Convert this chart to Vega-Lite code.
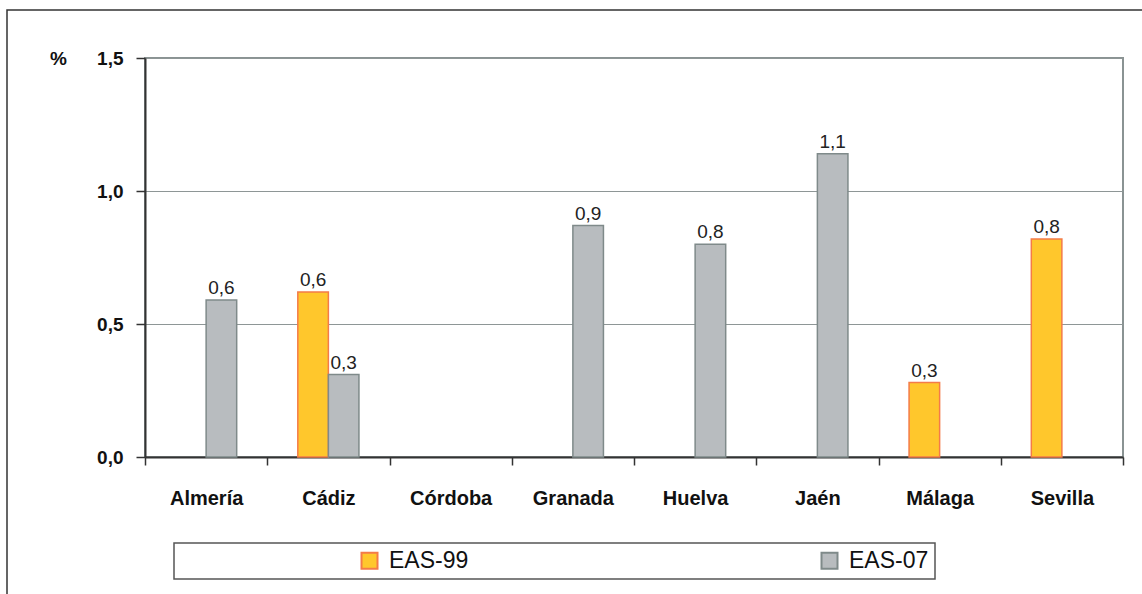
{
  "$schema": "https://vega.github.io/schema/vega-lite/v6.json",
  "width": 978,
  "height": 399,
  "autosize": {"type": "none"},
  "padding": {"left": 145, "top": 58, "right": 19, "bottom": 137},
  "background": "white",
  "config": {
    "locale": {"number": {"decimal": ",", "thousands": ".", "grouping": [3], "currency": ["", " €"]}},
    "font": "Liberation Sans",
    "view": {"stroke": "#8A9393", "strokeWidth": 2},
    "legend": {
      "orient": "none",
      "direction": "horizontal",
      "labelFont": "Liberation Sans",
      "labelLimit": 0,
      "strokeWidth": 1.5
    }
  },
  "data": {
    "values": [
      {"region": "Almería", "series": "EAS-07", "value": 0.59},
      {"region": "Cádiz", "series": "EAS-99", "value": 0.62},
      {"region": "Cádiz", "series": "EAS-07", "value": 0.31},
      {"region": "Granada", "series": "EAS-07", "value": 0.87},
      {"region": "Huelva", "series": "EAS-07", "value": 0.8},
      {"region": "Jaén", "series": "EAS-07", "value": 1.14},
      {"region": "Málaga", "series": "EAS-99", "value": 0.28},
      {"region": "Sevilla", "series": "EAS-99", "value": 0.82}
    ]
  },
  "encoding": {
    "x": {
      "field": "region",
      "type": "nominal",
      "sort": ["Almería", "Cádiz", "Córdoba", "Granada", "Huelva", "Jaén", "Málaga", "Sevilla"],
      "scale": {"domain": ["Almería", "Cádiz", "Córdoba", "Granada", "Huelva", "Jaén", "Málaga", "Sevilla"], "paddingInner": 0, "paddingOuter": 0},
      "axis": {
        "title": null,
        "tickBand": "extent",
        "labelAngle": 0,
        "labelFont": "Liberation Sans",
        "labelFontSize": 20,
        "labelFontWeight": "bold",
        "labelColor": "#111111",
        "labelPadding": 23,
        "tickSize": 8,
        "tickColor": "#333333",
        "tickWidth": 1.5,
        "domainColor": "#333333",
        "domainWidth": 2,
        "grid": false
      }
    },
    "xOffset": {
      "field": "series",
      "type": "nominal",
      "sort": ["EAS-99", "EAS-07"],
      "scale": {"domain": ["EAS-99", "EAS-07"], "paddingInner": 0, "paddingOuter": 1.843}
    },
    "y": {
      "field": "value",
      "type": "quantitative",
      "scale": {"domain": [0, 1.5], "nice": false},
      "axis": {
        "values": [0, 0.5, 1, 1.5],
        "format": ".1f",
        "title": "%",
        "titleAngle": 0,
        "titleX": -87,
        "titleY": 0,
        "titleAlign": "center",
        "titleBaseline": "middle",
        "titleFont": "Liberation Sans",
        "titleFontSize": 19,
        "titleFontWeight": "bold",
        "titleColor": "#111111",
        "labelFont": "Liberation Sans",
        "labelFontSize": 19,
        "labelFontWeight": "bold",
        "labelColor": "#111111",
        "labelPadding": 13,
        "tickSize": 9,
        "tickColor": "#333333",
        "tickWidth": 1.5,
        "domainColor": "#333333",
        "domainWidth": 2,
        "gridColor": "#8E9696",
        "gridWidth": 1
      }
    }
  },
  "layer": [
    {
      "mark": {"type": "bar", "strokeWidth": 1.5},
      "encoding": {
        "fill": {
          "field": "series",
          "type": "nominal",
          "scale": {"domain": ["EAS-99", "EAS-07"], "range": ["#FFC72C", "#B8BCBF"]},
          "legend": {
            "title": null,
            "legendX": 29, "legendY": 485,
            "fillColor": "white", "strokeColor": "#555555", "padding": 6,
            "symbolType": "square", "symbolSize": 256, "symbolStrokeWidth": 2,
            "labelFontSize": 23, "labelColor": "#111111",
            "symbolOffset": 178, "labelOffset": 8, "columnPadding": 171
          }
        },
        "stroke": {
          "field": "series",
          "type": "nominal",
          "scale": {"domain": ["EAS-99", "EAS-07"], "range": ["#F47B48", "#7F8A8A"]},
          "legend": {
            "title": null,
            "legendX": 29, "legendY": 485,
            "fillColor": "white", "strokeColor": "#555555", "padding": 6,
            "symbolType": "square", "symbolSize": 256, "symbolStrokeWidth": 2,
            "labelFontSize": 23, "labelColor": "#111111",
            "symbolOffset": 178, "labelOffset": 8, "columnPadding": 171
          }
        },
        "opacity": {
          "field": "region",
          "type": "ordinal",
          "scale": {"range": [1, 1]},
          "legend": {
            "title": null,
            "legendX": -138, "legendY": -48,
            "fillColor": "rgba(0,0,0,0)", "strokeColor": "#333333", "padding": 640,
            "symbolOpacity": 0, "symbolSize": 1, "symbolStrokeWidth": 0,
            "labelExpr": "''", "labelFontSize": 1, "labelOffset": 0, "columnPadding": 0, "rowPadding": 0,
            "zindex": 0
          }
        }
      }
    },
    {
      "mark": {"type": "text", "baseline": "alphabetic", "dy": -6, "font": "Liberation Sans", "fontSize": 19, "color": "#222222"},
      "encoding": {
        "text": {"field": "value", "type": "quantitative", "format": ".1f"}
      }
    }
  ]
}
